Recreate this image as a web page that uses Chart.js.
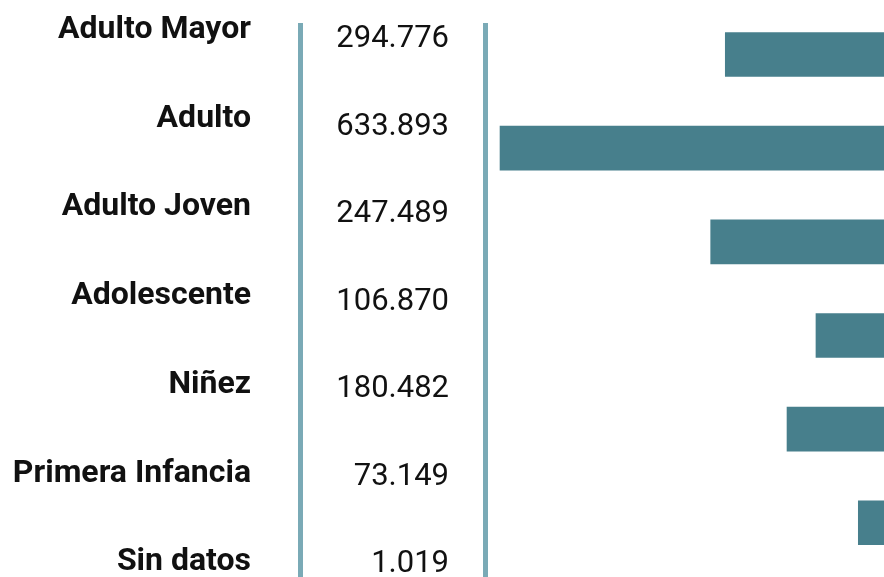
<!DOCTYPE html>
<html>
<head>
<meta charset="utf-8">
<script src="https://cdn.jsdelivr.net/npm/chart.js@4"></script>
<style>
  html, body { margin: 0; padding: 0; background: #fff; overflow: hidden; }
  #wrap { width: 884px; height: 577px; position: relative; }
</style>
</head>
<body>
<div id="wrap"><canvas id="edadChart"></canvas></div>
<script>
// Grupos de edad, de arriba hacia abajo
const categories = ['Adulto Mayor', 'Adulto', 'Adulto Joven', 'Adolescente', 'Niñez', 'Primera Infancia', 'Sin datos'];
// Cifras impresas en la columna central
const valueLabels = ['294.776', '633.893', '247.489', '106.870', '180.482', '73.149', '1.019'];
// Largo de cada barra (miles, misma escala que "Adulto")
const barLengths = [262.0, 633.9, 286.1, 112.3, 160.1, 42.4, 1.0];

const BAR = '#477f8c';
const RULE = '#7aaab6';

const fixedTicks = (s) => { s.ticks = categories.map((_, i) => ({ value: i })); };
const fitWidth = (w) => (s) => {
    s.width = w;
    s.paddingTop = 0;
    s.paddingBottom = 0;
};

new Chart(document.getElementById('edadChart'), {
    type: 'bar',
    data: {
        datasets: [{
            data: categories.map((c, i) => ({ x: barLengths[i], y: i })),
            backgroundColor: BAR,
            borderWidth: 0,
            barThickness: 44,
            xAxisID: 'x',
            yAxisID: 'y'
        }]
    },
    options: {
        indexAxis: 'y',
        responsive: true,
        maintainAspectRatio: false,
        animation: false,
        layout: { padding: { top: 25, left: 0, right: 0, bottom: 0 } },
        plugins: { legend: { display: false }, tooltip: { enabled: false } },
        scales: {
            x: {
                type: 'linear',
                reverse: true,
                min: 0,
                max: 658.7,
                display: false
            },
            y: {
                type: 'linear',
                reverse: true,
                offset: false,
                min: -0.315,
                max: 5.579,
                display: false
            },
            yLabel: {
                type: 'linear',
                position: 'left',
                weight: 2,
                reverse: true,
                offset: false,
                min: -0.055,
                max: 6.165,
                afterBuildTicks: fixedTicks,
                afterFit: fitWidth(300),
                grid: { display: false },
                border: { display: true, color: RULE, width: 5 },
                ticks: {
                    autoSkip: false,
                    padding: 41,
                    color: '#111',
                    font: { family: 'Roboto', weight: 'bold', size: 32 },
                    callback: (v) => categories[v]
                }
            },
            yValue: {
                type: 'linear',
                position: 'left',
                weight: 1,
                reverse: true,
                offset: false,
                min: -0.165,
                max: 6.143,
                afterBuildTicks: fixedTicks,
                afterFit: fitWidth(185),
                grid: { display: false },
                border: { display: true, color: RULE, width: 5 },
                ticks: {
                    autoSkip: false,
                    padding: 28,
                    color: '#111',
                    font: { family: 'Roboto', weight: 'normal', size: 31 },
                    callback: (v) => valueLabels[v]
                }
            }
        }
    }
});
</script>
</body>
</html>
